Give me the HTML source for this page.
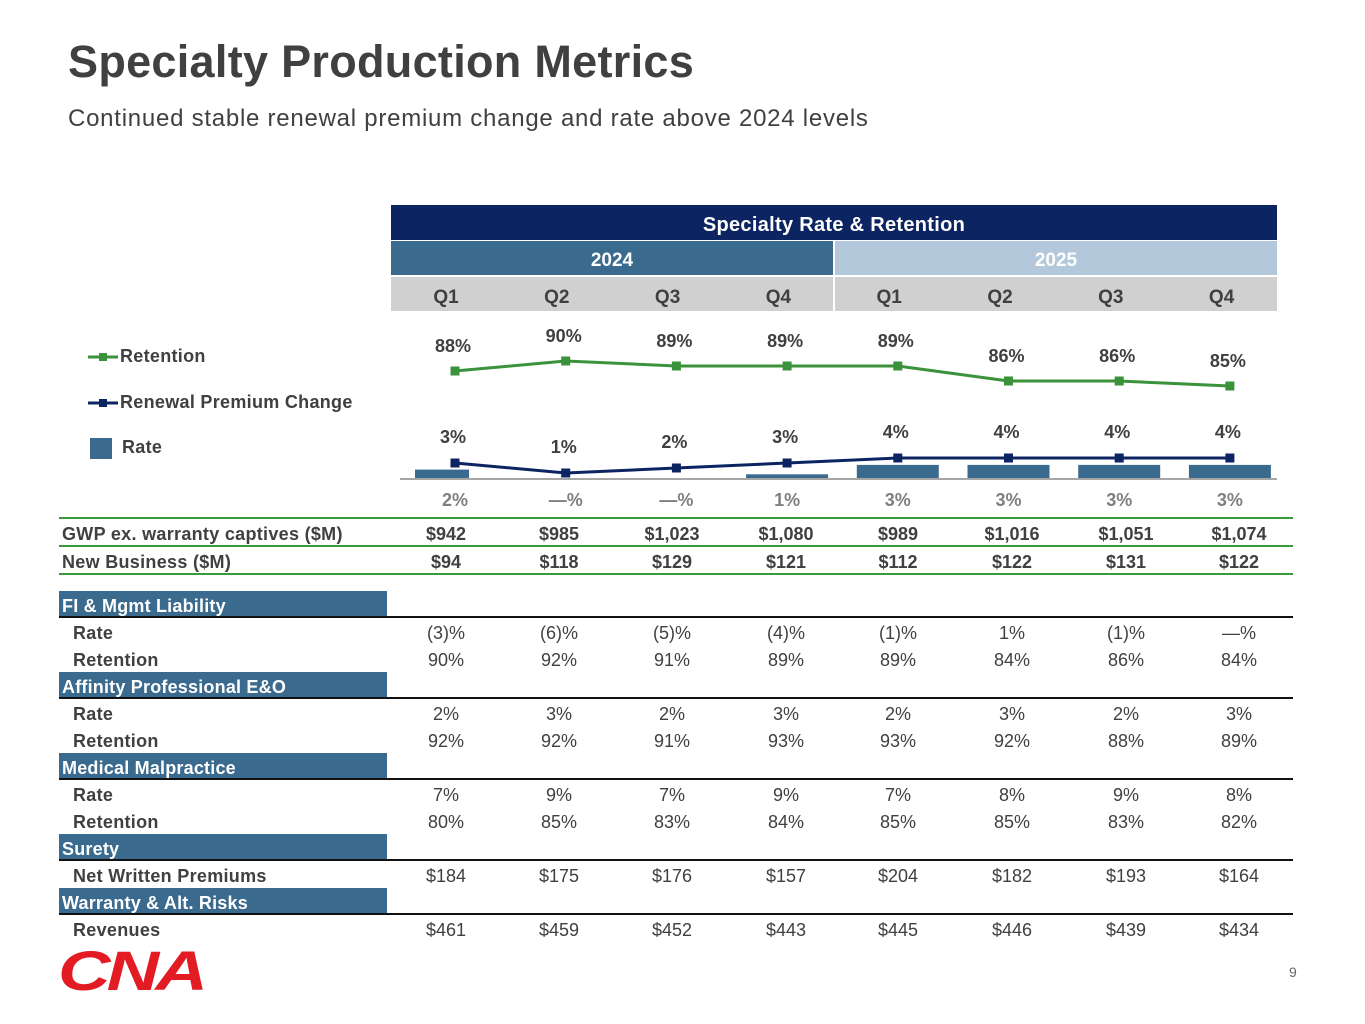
<!DOCTYPE html>
<html><head><meta charset="utf-8">
<style>
body{margin:0;width:1365px;height:1024px;background:#fff;position:relative;overflow:hidden;font-family:"Liberation Sans",sans-serif;color:#404040}
.a{position:absolute}
.c{position:absolute;transform:translateX(-50%);white-space:nowrap}
.hd{position:absolute;display:flex;align-items:center;justify-content:center;font-weight:bold;padding-top:6px;box-sizing:border-box}
.sec{position:absolute;left:59px;width:328px;height:26px;background:#3b6a8f;color:#fff;font-weight:bold;font-size:18px;line-height:30px;padding-left:3px;box-sizing:border-box;letter-spacing:0.2px}
.ln{position:absolute;left:59px;width:1234px;height:2px;background:#111}
.gl{position:absolute;left:59px;width:1234px;height:2px;background:#3a9a3a}
.lbl{position:absolute;font-size:18px;font-weight:bold;letter-spacing:0.3px}
.v{position:absolute;font-size:18px;transform:translateX(-50%)}
</style></head><body>
<div class="a" style="left:68px;top:36px;font-size:45px;font-weight:bold;color:#404040;letter-spacing:0.3px">Specialty Production Metrics</div>
<div class="a" style="left:68px;top:105px;font-size:24px;color:#404040;letter-spacing:0.75px">Continued stable renewal premium change and rate above 2024 levels</div>

<div class="hd" style="left:391px;top:205px;width:886px;height:35px;background:#0c2461;color:#fff;font-size:20px;letter-spacing:0.3px">Specialty Rate &amp; Retention</div>
<div class="hd" style="left:391px;top:241px;width:442px;height:34px;background:#3b6a8f;color:#fff;font-size:19px">2024</div>
<div class="hd" style="left:835px;top:241px;width:442px;height:34px;background:#b3c8da;color:#fff;font-size:19px">2025</div>
<div class="a" style="left:391px;top:277px;width:886px;height:34px;background:#d0d0d0"></div>
<div class="a" style="left:833px;top:241px;width:2px;height:70px;background:#fff"></div>
<div id="qrow"></div>

<div class="a" style="left:88px;top:346px;font-size:18px;font-weight:bold;letter-spacing:0.3px"><svg width="32" height="20" style="vertical-align:middle"><line x1="0" y1="10" x2="30" y2="10" stroke="#3a923a" stroke-width="3"/><rect x="11" y="6" width="8" height="8" fill="#3a923a"/></svg>Retention</div>
<div class="a" style="left:88px;top:392px;font-size:18px;font-weight:bold;letter-spacing:0.3px"><svg width="32" height="20" style="vertical-align:middle"><line x1="0" y1="10" x2="30" y2="10" stroke="#0c2461" stroke-width="3"/><rect x="11" y="6" width="8" height="8" fill="#0c2461"/></svg>Renewal Premium Change</div>
<div class="a" style="left:90px;top:437px;font-size:18px;font-weight:bold;letter-spacing:0.3px"><span style="display:inline-block;width:22px;height:21px;background:#3b6a8f;vertical-align:middle;margin-right:10px"></span>Rate</div>

<svg id="chart" class="a" style="left:0;top:0" width="1365" height="520"></svg>

<div id="tbl"></div>

<div class="a" style="left:58px;top:938px;font-size:56px;font-weight:900;font-style:italic;color:#e31b23;letter-spacing:-3px;transform:scaleX(1.3);transform-origin:left;font-family:'Liberation Sans',sans-serif">CNA</div>
<div class="a" style="left:1289px;top:964px;font-size:14px;color:#666">9</div>

<script>
const quarters=["Q1","Q2","Q3","Q4","Q1","Q2","Q3","Q4"];
const retention=[88,90,89,89,89,86,86,85];
const renewalChange=[3,1,2,3,4,4,4,4];
const rate=[2,0,0,1,3,3,3,3];
const rateLabels=["2%","—%","—%","1%","3%","3%","3%","3%"];
const px=i=>455+i*110.7;
const yRet=v=>371-(v-88)*5;
const yRpc=v=>478-v*5;
const yBar=v=>479-v*4.7;
const NS="http://www.w3.org/2000/svg";
const svg=document.getElementById('chart');
function mk(t,a){const e=document.createElementNS(NS,t);for(const k in a)e.setAttribute(k,a[k]);svg.appendChild(e);return e;}
const qr=document.getElementById('qrow');
quarters.forEach((q,i)=>{const d=document.createElement('div');d.className='c';d.style.left=(446+i*110.8)+'px';d.style.top='287px';d.style.fontSize='19px';d.style.fontWeight='bold';d.style.color='#404040';d.textContent=q;


qr.appendChild(d);});
rate.forEach((v,i)=>{const x=px(i);let x0=x-41,w=82;if(x0<415){w=x+14-415;x0=415;}
const r=mk('rect',{x:x0,y:yBar(v),width:w,height:479-yBar(v),fill:'#3b6a8f'});


const t=mk('text',{x:x,y:506,'text-anchor':'middle','font-size':18,'font-weight':'bold',fill:'#7f7f7f','font-family':'Liberation Sans'});t.textContent=rateLabels[i];

});
mk('line',{x1:400,y1:479,x2:1277,y2:479,stroke:'#a6a6a6','stroke-width':2});
function series(vals,yf,color,name,off){
const pl=mk('polyline',{points:vals.map((v,i)=>px(i)+','+yf(v)).join(' '),fill:'none',stroke:color,'stroke-width':3});


vals.forEach((v,i)=>{const m=mk('rect',{x:px(i)-4.5,y:yf(v)-4.5,width:9,height:9,fill:color});


const t=mk('text',{x:px(i)-2,y:yf(v)-off,'text-anchor':'middle','font-size':18,'font-weight':'bold',fill:'#404040','font-family':'Liberation Sans'});t.textContent=v+'%';

});}
series(retention,yRet,'#3a923a','retention',19);
series(renewalChange,yRpc,'#0c2461','renewal-change',20);

const cols=[446,559,672,786,898,1012,1126,1239];
const gwp=["$942","$985","$1,023","$1,080","$989","$1,016","$1,051","$1,074"];
const newBiz=["$94","$118","$129","$121","$112","$122","$131","$122"];
const sections=[
 ["FI & Mgmt Liability",[["Rate",["(3)%","(6)%","(5)%","(4)%","(1)%","1%","(1)%","—%"]],["Retention",["90%","92%","91%","89%","89%","84%","86%","84%"]]]],
 ["Affinity Professional E&O",[["Rate",["2%","3%","2%","3%","2%","3%","2%","3%"]],["Retention",["92%","92%","91%","93%","93%","92%","88%","89%"]]]],
 ["Medical Malpractice",[["Rate",["7%","9%","7%","9%","7%","8%","9%","8%"]],["Retention",["80%","85%","83%","84%","85%","85%","83%","82%"]]]],
 ["Surety",[["Net Written Premiums",["$184","$175","$176","$157","$204","$182","$193","$164"]]]],
 ["Warranty & Alt. Risks",[["Revenues",["$461","$459","$452","$443","$445","$446","$439","$434"]]]]];
const tb=document.getElementById('tbl');
function el(cls,style,txt){const d=document.createElement('div');d.className=cls;d.style.cssText=style;if(txt!=null)d.textContent=txt;tb.appendChild(d);return d;}
[517,545,573].forEach(y=>{const g=el('gl','top:'+y+'px');

});
function row(label,vals,y,bold,indent,name){const l=el('lbl','left:'+(indent?73:62)+'px;top:'+y+'px;',label);


vals.forEach((v,i)=>{const d=el('v','left:'+cols[i]+'px;top:'+y+'px;font-weight:'+(bold?'bold':'normal'),v);

});}
row("GWP ex. warranty captives ($M)",gwp,524,true,false,'gwp');
row("New Business ($M)",newBiz,552,true,false,'new-business');
const secTops=[591,672,753,834,888];
sections.forEach((s,si)=>{let y=secTops[si];
const h=el('sec','top:'+y+'px',s[0]);


const ln=el('ln','top:'+(y+25)+'px');


s[1].forEach((r,ri)=>row(r[0],r[1],y+32+ri*27,false,true,r[0].toLowerCase().replace(/ /g,'-')));});
</script>
</body></html>
